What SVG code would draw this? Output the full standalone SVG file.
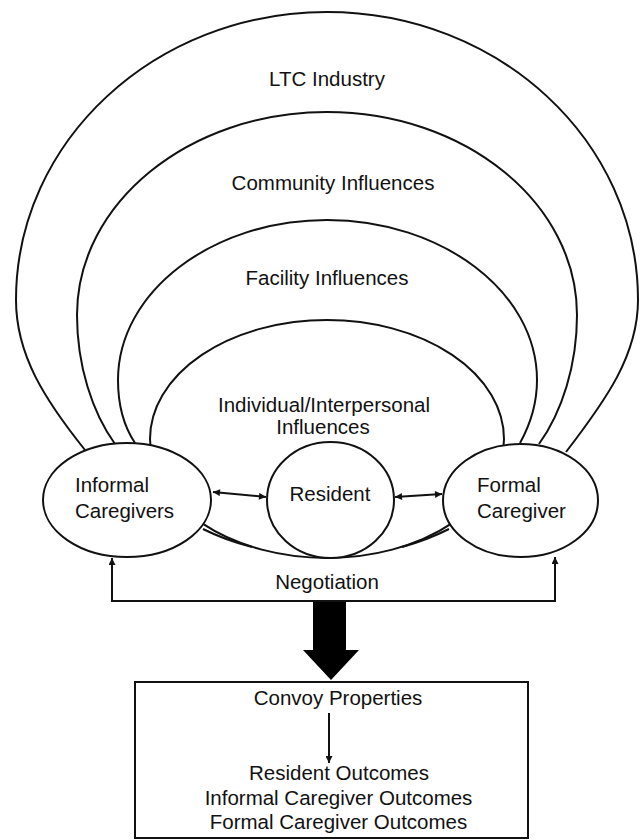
<svg xmlns="http://www.w3.org/2000/svg" width="642" height="840" viewBox="0 0 642 840">
<style>
  .ln { fill: none; stroke: #111; stroke-width: 2; }
  .nd { fill: #fff; stroke: #111; stroke-width: 2; }
  .tx { font-family: "Liberation Sans", Arial, sans-serif; font-size: 20.5px; fill: #111; }
  .c { text-anchor: middle; }
</style>
<defs>
  <marker id="ah" viewBox="0 0 10 10" refX="10" refY="5" markerWidth="9" markerHeight="7" markerUnits="userSpaceOnUse" orient="auto-start-reverse">
    <path d="M0,0 L10,5 L0,10 z" fill="#111"/>
  </marker>
</defs>
<rect width="642" height="840" fill="#fff"/>

<g id="ltc-industry">
  <path class="ln" d="M85,450 C45,400 16,355 16,300 C16,141 155,12 327,12 C499,12 638,141 638,300 C638,355 606,400 566,452"/>
  <text class="tx c" x="327" y="86">LTC Industry</text>
</g>
<g id="community-influences">
  <path class="ln" d="M115,444 C92,412 77,365 77,315 C77,203 189,112 327,112 C465,112 577,203 577,315 C577,365 562,412 539,444"/>
  <text class="tx c" x="333" y="190">Community Influences</text>
</g>
<g id="facility-influences">
  <path class="ln" d="M135,443 C123,425 118,405 118,380 C118,292 212,220 327,220 C442,220 537,292 537,380 C537,405 530,425 520,443"/>
  <text class="tx c" x="327" y="285">Facility Influences</text>
</g>
<g id="individual-influences">
  <ellipse class="ln" cx="327" cy="439" rx="177" ry="119"/>
  <path class="ln" d="M203,529 Q225,540 252,547"/>
  <path class="ln" d="M449,529 Q427,540 402,547"/>
  <text class="tx c" x="324" y="412">Individual/Interpersonal</text>
  <text class="tx c" x="323" y="434">Influences</text>
</g>

<g id="informal-caregivers">
  <ellipse class="nd" cx="127" cy="500" rx="84" ry="57"/>
  <text class="tx" x="75" y="492">Informal</text>
  <text class="tx" x="75" y="518">Caregivers</text>
</g>
<g id="resident">
  <ellipse class="nd" cx="330.5" cy="500" rx="63.5" ry="58"/>
  <text class="tx c" x="330" y="501">Resident</text>
</g>
<g id="formal-caregiver">
  <ellipse class="nd" cx="520.5" cy="500.5" rx="77.5" ry="56.5"/>
  <text class="tx" x="477" y="492">Formal</text>
  <text class="tx" x="477" y="518">Caregiver</text>
</g>

<g id="connectors">
  <line class="ln" x1="213" y1="492" x2="266" y2="497" marker-start="url(#ah)" marker-end="url(#ah)"/>
  <line class="ln" x1="395" y1="497" x2="442" y2="494" marker-start="url(#ah)" marker-end="url(#ah)"/>
  <path class="ln" d="M112,558 L112,601 L555,601 L555,557" marker-start="url(#ah)" marker-end="url(#ah)"/>
  <polygon points="313,602 346,602 346,650 359,650 331,680 303,650 313,650" fill="#000"/>
  <line class="ln" x1="329" y1="713" x2="329" y2="763" marker-end="url(#ah)"/>
</g>
<text class="tx c" x="327" y="589">Negotiation</text>

<g id="convoy-box">
  <rect class="ln" x="135" y="682" width="393" height="156"/>
  <text class="tx c" x="338" y="705">Convoy Properties</text>
  <text class="tx c" x="339" y="780">Resident Outcomes</text>
  <text class="tx c" x="338.5" y="805">Informal Caregiver Outcomes</text>
  <text class="tx c" x="338.5" y="829">Formal Caregiver Outcomes</text>
</g>
</svg>
